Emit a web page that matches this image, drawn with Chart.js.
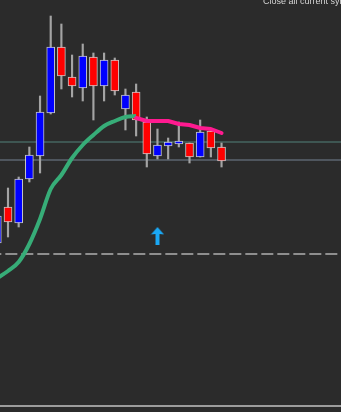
<!DOCTYPE html>
<html>
<head>
<meta charset="utf-8">
<script src="https://cdn.jsdelivr.net/npm/chart.js@4.4.1/dist/chart.umd.min.js"></script>
<style>
html, body { margin: 0; padding: 0; background: #2b2b2b; overflow: hidden; }
#wrap { position: relative; width: 341px; height: 412px; }
#note { position: absolute; left: 263px; top: -4px; font: 9px "Liberation Sans", Arial, sans-serif; line-height: 10px; color: #d4d4d4; white-space: nowrap; }
#frame { position: absolute; left: 0; top: 405px; width: 341px; height: 2px; background: #9c9c9c; }
</style>
</head>
<body>
<div id="wrap">
  <canvas id="chart" width="341" height="412"></canvas>
  <div id="note">Close all current symbol</div>
  <div id="frame"></div>
</div>
<script>
// candles, oldest first
var opens  = [1.0969, 1.1005, 1.0989, 1.1033, 1.1056, 1.1099, 1.1165, 1.1135, 1.1124, 1.1155, 1.1126,
              1.1152, 1.1103, 1.1120, 1.1090, 1.1056, 1.1066, 1.1068, 1.1069, 1.1055, 1.1081, 1.1065];
var highs  = [1.1002, 1.1024, 1.1035, 1.1065, 1.1116, 1.1196, 1.1188, 1.1157, 1.1168, 1.1159, 1.1159,
              1.1154, 1.1123, 1.1128, 1.1095, 1.1083, 1.1074, 1.1090, 1.1069, 1.1092, 1.1081, 1.1069];
var lows   = [1.0964, 1.0975, 1.0985, 1.1030, 1.1039, 1.1098, 1.1123, 1.1115, 1.1111, 1.1092, 1.1111,
              1.1117, 1.1082, 1.1076, 1.1045, 1.1053, 1.1053, 1.1065, 1.1049, 1.1055, 1.1055, 1.1045];
var closes = [1.0996, 1.0990, 1.1033, 1.1057, 1.1100, 1.1165, 1.1136, 1.1126, 1.1156, 1.1126, 1.1152,
              1.1121, 1.1117, 1.1092, 1.1058, 1.1067, 1.1070, 1.1071, 1.1055, 1.1080, 1.1064, 1.1051];

// moving average: rising part (green) then falling part (pink)
var maUp   = [1.0934, 1.0941, 1.0950, 1.0968, 1.0993, 1.1023, 1.1037, 1.1054, 1.1067, 1.1077, 1.1086,
              1.1091, 1.1095, 1.1096];
var maDown = [1.1094, 1.1091, 1.1091, 1.1091, 1.1088, 1.1087, 1.1084, 1.1083, 1.1079];
var maDownStart = 13;

// horizontal levels
var levelHigh = 1.1070;
var levelLow = 1.1052;
var levelDashed = 1.0958;

// buy signal arrow
var arrowBar = 15;
var arrowPrice = 1.0976;

var xMin = 0.25, xMax = 32.19;
var yMin = 1.0800, yMax = 1.1212;

function hline(y, color, width, dash) {
  return {
    type: "line",
    data: [{ x: xMin - 1, y: y }, { x: xMax + 1, y: y }],
    borderColor: color,
    borderWidth: width,
    borderDash: dash || [],
    pointRadius: 0,
    order: 6
  };
}

function arrowImage() {
  var c = document.createElement("canvas");
  c.width = 14; c.height = 18;
  var g = c.getContext("2d");
  g.fillStyle = "#1aa8f5";
  g.beginPath();
  g.moveTo(7, 0);
  g.lineTo(13.5, 7.5);
  g.lineTo(9, 7);
  g.lineTo(9, 18);
  g.lineTo(5, 18);
  g.lineTo(5, 7);
  g.lineTo(0.5, 7.5);
  g.closePath();
  g.fill();
  return c;
}

var candleColors = closes.map(function(c, i) { return c >= opens[i] ? "#0000ff" : "#ff0000"; });

new Chart(document.getElementById("chart"), {
  type: "bar",
  data: {
    datasets: [
      hline(levelHigh, "#3e5652", 2),
      hline(levelLow, "#5d6670", 1.5),
      hline(levelDashed, "#8e8e8e", 2, [12, 4]),
      {
        type: "bar",
        data: lows.map(function(l, i) { return { x: i, y: [l, highs[i]] }; }),
        backgroundColor: "#a4a4a4",
        barThickness: 1.5,
        grouped: false,
        order: 5
      },
      {
        type: "bar",
        data: opens.map(function(o, i) { return { x: i, y: [o, closes[i]] }; }),
        backgroundColor: candleColors,
        borderColor: "rgba(225,225,225,0.85)",
        borderWidth: 1,
        borderSkipped: false,
        barThickness: 8,
        grouped: false,
        order: 4
      },
      {
        type: "line",
        data: maUp.map(function(v, i) { return { x: i, y: v }; }),
        borderColor: "#37ad78",
        borderWidth: 4,
        cubicInterpolationMode: "monotone",
        pointRadius: 0,
        order: 3
      },
      {
        type: "line",
        data: maDown.map(function(v, i) { return { x: maDownStart + i, y: v }; }),
        borderColor: "#ff1a90",
        borderWidth: 4,
        borderJoinStyle: "round",
        borderCapStyle: "round",
        tension: 0,
        pointRadius: 0,
        order: 2
      },
      {
        type: "line",
        data: [{ x: arrowBar, y: arrowPrice }],
        showLine: false,
        pointStyle: arrowImage(),
        pointRadius: 9,
        order: 1
      }
    ]
  },
  options: {
    responsive: false,
    animation: false,
    events: [],
    layout: { padding: 0, autoPadding: false },
    scales: {
      x: { type: "linear", display: false, min: xMin, max: xMax, offset: false },
      y: { type: "linear", display: false, min: yMin, max: yMax }
    },
    plugins: { legend: { display: false }, tooltip: { enabled: false } }
  }
});
</script>
</body>
</html>
